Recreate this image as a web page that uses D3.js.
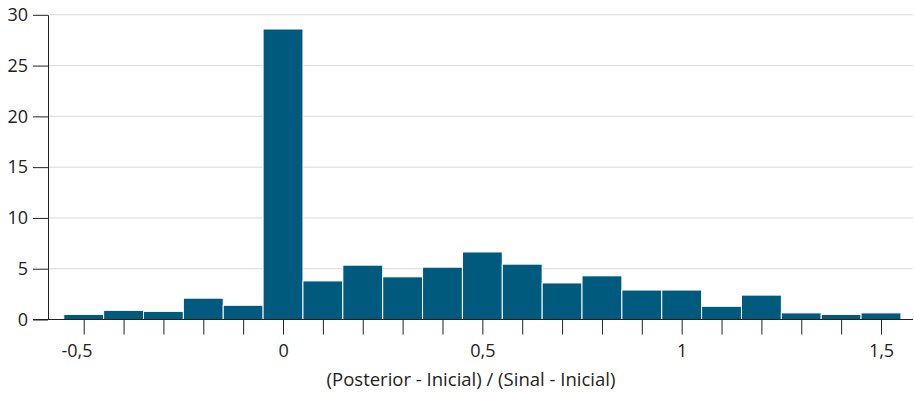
<!DOCTYPE html>
<html>
<head>
<meta charset="utf-8">
<script src="https://cdn.jsdelivr.net/npm/d3@7"></script>
<style>
  body { margin: 0; background: #fff; }
  svg text { font-family: "Open Sans", sans-serif; fill: #222; }
</style>
</head>
<body>
<svg id="chart" width="914" height="394"></svg>
<script>
// data - bin centres and heights (bin width 0.1)
var binCenters = [-0.5, -0.4, -0.3, -0.2, -0.1, 0, 0.1, 0.2, 0.3, 0.4, 0.5,
                  0.6, 0.7, 0.8, 0.9, 1.0, 1.1, 1.2, 1.3, 1.4, 1.5];
var binValues  = [0.5, 0.9, 0.8, 2.1, 1.4, 28.6, 3.8, 5.35, 4.2, 5.15, 6.65,
                  5.45, 3.6, 4.3, 2.9, 2.9, 1.3, 2.4, 0.65, 0.5, 0.65];
var binWidth = 0.1;
var xTickLabels = [-0.5, 0, 0.5, 1, 1.5];
var yTicks = [0, 5, 10, 15, 20, 25, 30];
var xTitle = "(Posterior - Inicial) / (Sinal - Inicial)";

var svg = d3.select("#chart"),
    axisX0 = 48,
    right = 913;

var x = d3.scaleLinear().domain([-0.5, 1.5]).range([83.7, 881]),
    y = d3.scaleLinear().domain([0, 30]).range([319.5, 14.8]);

var fmt = function(d){ return String(d).replace(".", ","); };

// grid
svg.append("g")
   .selectAll("line")
   .data(yTicks.filter(function(d){ return d > 0; }))
   .enter().append("line")
   .attr("x1", axisX0).attr("x2", right)
   .attr("y1", function(d){ return y(d); })
   .attr("y2", function(d){ return y(d); })
   .attr("stroke", "#d9d9d9")
   .attr("stroke-width", 1);

// bars
svg.append("g")
   .selectAll("rect")
   .data(binCenters)
   .enter().append("rect")
   .attr("x", function(d){ return x(d - binWidth / 2); })
   .attr("width", function(d){ return x(d + binWidth / 2) - x(d - binWidth / 2); })
   .attr("y", function(d, i){ return y(binValues[i]); })
   .attr("height", function(d, i){ return y(0) - y(binValues[i]); })
   .attr("fill", "#005a7d")
   .attr("stroke", "#fff")
   .attr("stroke-width", 1);

// x axis
var xAxis = d3.axisBottom(x)
    .tickValues(binCenters)
    .tickSize(15)
    .tickSizeOuter(0)
    .tickFormat(function(d){
        return xTickLabels.some(function(v){ return Math.abs(v - d) < 1e-9; }) ? fmt(d) : "";
    });

var gx = svg.append("g")
   .attr("transform", "translate(0," + y(0) + ")")
   .call(xAxis);
gx.select(".domain").remove();
gx.selectAll(".tick line").attr("stroke", "#222");
gx.selectAll(".tick text")
  .attr("y", 25)
  .attr("dy", "0.71em")
  .attr("dx", function(d){ return d < 0 ? "-0.4em" : 0; })
  .style("font-size", "18px")
  .style("font-family", "'Open Sans', sans-serif")
  .attr("fill", "#222");

svg.append("line")
   .attr("x1", 33).attr("x2", right)
   .attr("y1", y(0)).attr("y2", y(0))
   .attr("stroke", "#222");

// y axis
var yAxis = d3.axisLeft(y)
    .tickValues(yTicks)
    .tickSize(15)
    .tickSizeOuter(0)
    .tickPadding(5);

var gy = svg.append("g")
   .attr("transform", "translate(" + axisX0 + ",0)")
   .call(yAxis);
gy.select(".domain").attr("stroke", "#222");
gy.selectAll(".tick line").attr("stroke", "#222");
gy.selectAll(".tick text")
  .style("font-size", "18px")
  .style("font-family", "'Open Sans', sans-serif")
  .attr("fill", "#222");

// title
svg.append("text")
   .attr("x", 471)
   .attr("y", 386)
   .attr("text-anchor", "middle")
   .style("font-size", "18.5px")
   .text(xTitle);
</script>
</body>
</html>
